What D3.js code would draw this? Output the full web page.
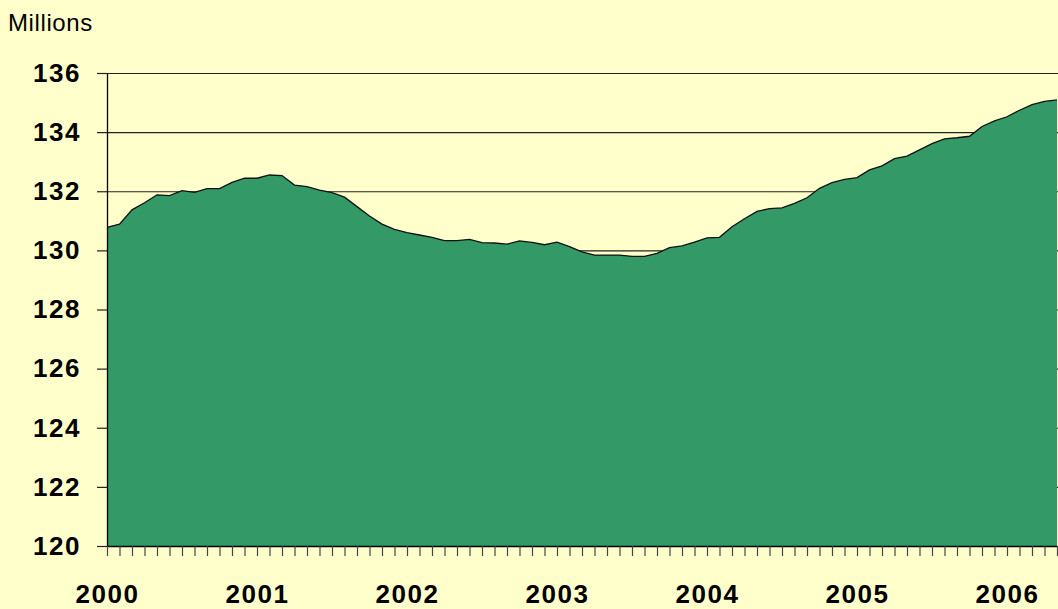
<!DOCTYPE html>
<html>
<head>
<meta charset="utf-8">
<script src="https://cdn.jsdelivr.net/npm/d3@7"></script>
<style>
  body { margin: 0; background: #ffffcc; }
  svg { display: block; font-family: Arial, "Liberation Sans", sans-serif; }
</style>
</head>
<body>
<svg id="chart" width="1058" height="609"></svg>
<script>
// monthly totals, Jan 2000 .. May 2006, millions
var values = [
  130.78, 130.89, 131.37, 131.61, 131.88, 131.85, 132.02, 131.96, 132.09, 132.09, 132.30, 132.44,
  132.44, 132.55, 132.53, 132.21, 132.16, 132.04, 131.95, 131.80, 131.48, 131.16, 130.89, 130.71,
  130.60, 130.52, 130.44, 130.33, 130.33, 130.37, 130.26, 130.25, 130.21, 130.32, 130.27, 130.19,
  130.28, 130.13, 129.95, 129.84, 129.84, 129.84, 129.80, 129.80, 129.90, 130.09, 130.15, 130.28,
  130.42, 130.44, 130.80, 131.07, 131.32, 131.41, 131.44, 131.59, 131.78, 132.10, 132.29, 132.40,
  132.46, 132.72, 132.86, 133.10, 133.19, 133.40, 133.61, 133.77, 133.81, 133.86, 134.19, 134.38,
  134.52, 134.74, 134.93, 135.04, 135.09
];
var years = ['2000', '2001', '2002', '2003', '2004', '2005', '2006'];
var yTicks = [120, 122, 124, 126, 128, 130, 132, 134, 136];

function drawChart() {
  var svg = d3.select('#chart');
  var plotLeft = 107, plotRight = 1057, plotTop = 73, plotBottom = 546;

  var x = d3.scaleLinear().domain([0, values.length - 1]).range([plotLeft, plotRight]);
  var y = d3.scaleLinear().domain([120, 136]).range([plotBottom, plotTop]);

  svg.append('rect')
    .attr('width', 1058)
    .attr('height', 609)
    .attr('fill', '#ffffcc');

  // gridlines sit behind the area
  svg.append('g')
    .selectAll('line')
    .data(yTicks.slice(1))
    .join('line')
    .attr('x1', plotLeft)
    .attr('x2', 1058)
    .attr('y1', function (d) { return y(d) + 0.5; })
    .attr('y2', function (d) { return y(d) + 0.5; })
    .attr('stroke', '#222')
    .attr('stroke-width', 1.2);

  var area = d3.area()
    .x(function (d, i) { return x(i); })
    .y0(plotBottom)
    .y1(function (d) { return y(d); });

  var line = d3.line()
    .x(function (d, i) { return x(i); })
    .y(function (d) { return y(d); });

  svg.append('path')
    .datum(values)
    .attr('d', area)
    .attr('fill', '#339966');

  svg.append('path')
    .datum(values)
    .attr('d', line)
    .attr('fill', 'none')
    .attr('stroke', '#111')
    .attr('stroke-width', 1.3);

  // y axis
  var yAxis = svg.append('g')
    .attr('transform', 'translate(' + plotLeft + ',0)')
    .call(d3.axisLeft(y).tickValues(yTicks).tickSize(10).tickSizeOuter(0).tickPadding(16).tickFormat(d3.format('d')));

  yAxis.select('.domain').attr('stroke', '#000').attr('stroke-width', 1.3);
  yAxis.selectAll('.tick line').attr('stroke', '#222').attr('stroke-width', 1.2);
  yAxis.selectAll('text')
    .attr('fill', '#000')
    .style('font-size', '26px')
    .style('font-weight', 'bold')
    .style('letter-spacing', '1.5px');

  // x axis: month ticks
  var xAxis = svg.append('g')
    .attr('transform', 'translate(0,' + plotBottom + ')')
    .call(d3.axisBottom(x).tickValues(d3.range(values.length)).tickSize(10).tickSizeOuter(0).tickFormat(''));

  xAxis.select('.domain').attr('stroke', '#000').attr('stroke-width', 1.3);
  xAxis.selectAll('.tick line').attr('stroke', '#444').attr('stroke-width', 1.2);

  // x axis: year labels
  var yearAxis = svg.append('g')
    .attr('transform', 'translate(0,' + plotBottom + ')')
    .call(d3.axisBottom(x)
      .tickValues(years.map(function (d, i) { return i * 12; }))
      .tickSize(0)
      .tickPadding(39)
      .tickFormat(function (d) { return years[d / 12]; }));

  yearAxis.select('.domain').remove();
  yearAxis.selectAll('text')
    .attr('fill', '#000')
    .style('font-size', '26px')
    .style('font-weight', 'bold')
    .style('letter-spacing', '1.5px');

  svg.append('text')
    .attr('x', 8)
    .attr('y', 31)
    .attr('fill', '#000')
    .style('font-size', '24px')
    .style('letter-spacing', '0.6px')
    .text('Millions');
}

drawChart();
</script>
</body>
</html>
